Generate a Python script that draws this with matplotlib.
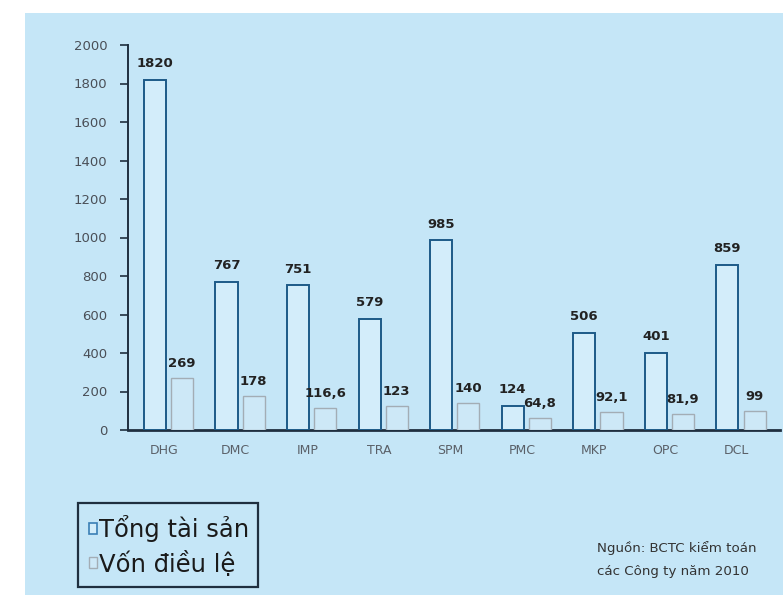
import matplotlib
matplotlib.use("Agg")
import matplotlib.pyplot as plt
from matplotlib.patches import Rectangle, Patch
import numpy as np

plt.rcParams['font.family'] = ['DejaVu Sans']

categories = ["DHG", "DMC", "IMP", "TRA", "SPM", "PMC", "MKP", "OPC", "DCL"]
tong_tai_san = [1820, 767, 751, 579, 985, 124, 506, 401, 859]
von_dieu_le = [269, 178, 116.6, 123, 140, 64.8, 92.1, 81.9, 99]
yticks = [0, 200, 400, 600, 800, 1000, 1200, 1400, 1600, 1800, 2000]
legend_labels = ["Tổng tài sản", "Vốn điều lệ"]
source_lines = ["Nguồn: BCTC kiểm toán", "các Công ty năm 2010"]

def fmt(v):
    s = ("%g" % v)
    return s.replace(".", ",")

W, H = 783, 595
fig = plt.figure(figsize=(W / 100, H / 100), dpi=100)
fig.patch.set_facecolor("white")
bg = "#c5e6f7"
fig.add_artist(Rectangle((25 / W, 0), 1 - 25 / W, 1 - 13 / H, transform=fig.transFigure,
                         facecolor=bg, edgecolor="none", zorder=-10))

ax = fig.add_axes([128 / W, 1 - 430 / H, 652 / W, (430 - 45) / H])
ax.set_facecolor("none")

x = np.arange(len(categories))
bw = 0.31
blue_edge = "#1d5a87"
gray_edge = "#a3adb5"
blue_fill = "#d3edfa"
gray_fill = "#cde8f7"
ax.bar(x - 0.035 - bw / 2, tong_tai_san, width=bw, facecolor=blue_fill, edgecolor=blue_edge,
       linewidth=1.4, zorder=3)
ax.bar(x + 0.035 + bw / 2, von_dieu_le, width=bw, facecolor=gray_fill, edgecolor=gray_edge,
       linewidth=1.0, zorder=3)

for xi, v in zip(x, tong_tai_san):
    ax.text(xi - 0.035 - bw / 2, v + 85, fmt(v), ha="center", va="center", fontsize=9.5,
            fontweight="bold", color="#222222")
for xi, v in zip(x, von_dieu_le):
    ax.text(xi + 0.035 + bw / 2, v + 75, fmt(v), ha="center", va="center", fontsize=9.5,
            fontweight="bold", color="#222222")

ax.set_xlim(-0.566, 8.545)
ax.set_ylim(0, 2000)
ax.set_yticks(yticks)
ax.set_yticklabels([str(t) for t in yticks], fontsize=9.5, color="#4a4f57")
ax.set_xticks(x - 0.06)
ax.set_xticklabels(categories, fontsize=9, color="#5a6068")
ax.tick_params(axis="x", length=0, pad=10)
ax.tick_params(axis="y", direction="out", length=6, width=1.2, color="#1f2f3f", pad=9)

for s in ["top", "right"]:
    ax.spines[s].set_visible(False)
ax.spines["left"].set_color("#1f2f3f")
ax.spines["left"].set_linewidth(1.4)
ax.spines["bottom"].set_color("#1f2f3f")
ax.spines["bottom"].set_linewidth(2.0)

# legend
handles = [Patch(facecolor=blue_fill, edgecolor="#3a7fb5", linewidth=1.2),
           Patch(facecolor=gray_fill, edgecolor=gray_edge, linewidth=1.0)]
leg = fig.legend(handles, legend_labels, loc="center left",
                 bbox_to_anchor=(89 / W, 1 - 546 / H), fontsize=17.5, frameon=False,
                 handlelength=0.33, handleheight=0.33, handletextpad=0.1,
                 borderpad=0, labelspacing=0.33, borderaxespad=0)
for t in leg.get_texts():
    t.set_color("#1a1a1a")
fig.add_artist(Rectangle((78 / W, 1 - 587 / H), 180 / W, 84 / H, transform=fig.transFigure,
                         facecolor="none", edgecolor="#1f2f3f", linewidth=1.6, zorder=5))

fig.text(597 / W, 1 - 548 / H, source_lines[0], fontsize=9.6, color="#333333",
         va="center", ha="left")
fig.text(597 / W, 1 - 571 / H, source_lines[1], fontsize=9.6, color="#333333",
         va="center", ha="left")

fig.savefig("out.png", dpi=100, facecolor=fig.get_facecolor())
